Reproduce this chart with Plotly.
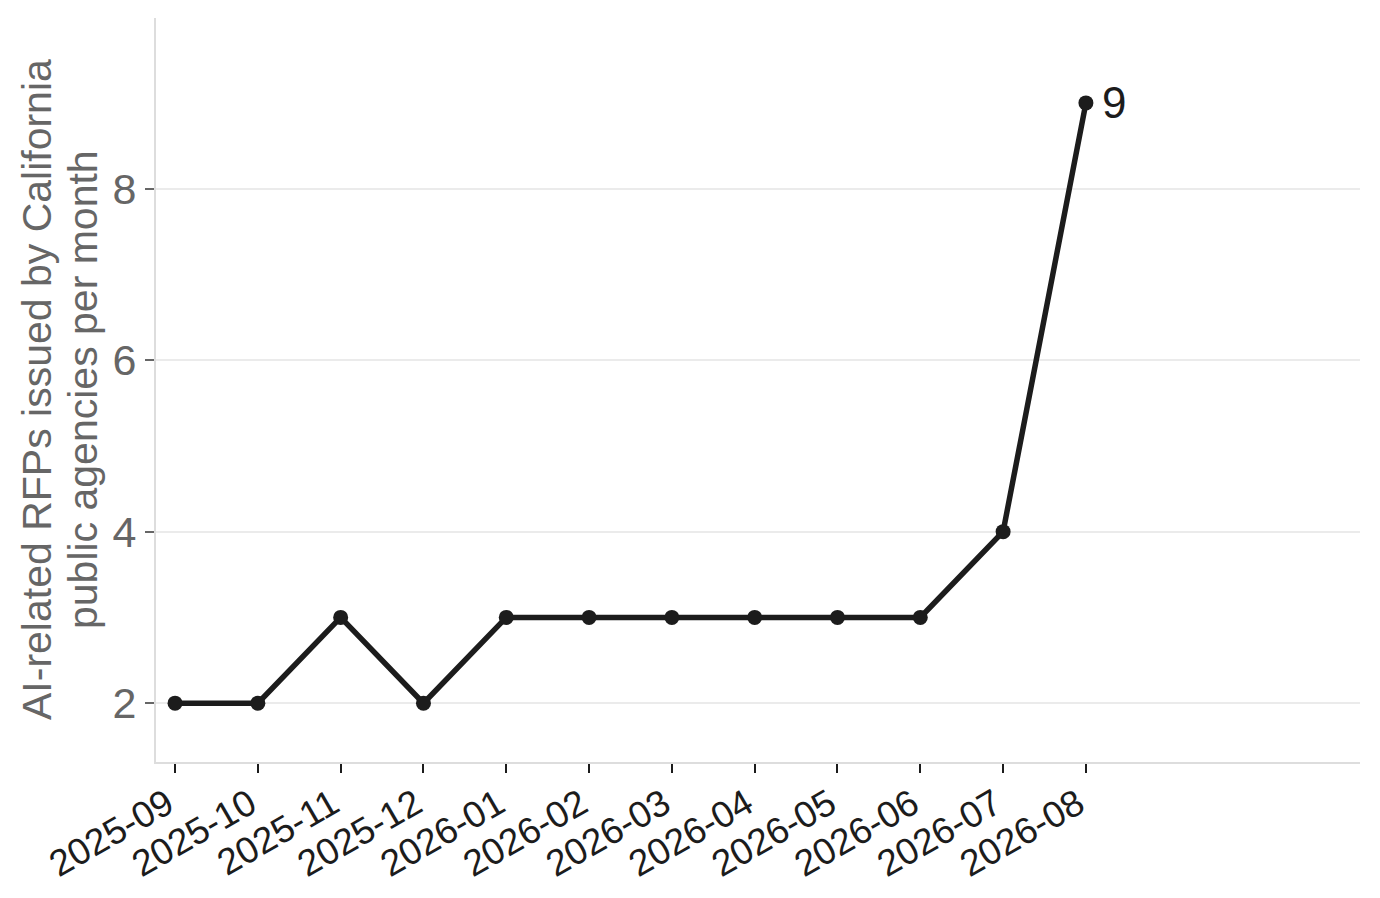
import plotly.graph_objects as go

# Monthly counts of AI-related RFPs
months = ["2025-09", "2025-10", "2025-11", "2025-12", "2026-01", "2026-02",
          "2026-03", "2026-04", "2026-05", "2026-06", "2026-07", "2026-08"]
rfp_counts = [2, 2, 3, 2, 3, 3, 3, 3, 3, 3, 4, 9]
y_ticks = [2, 4, 6, 8]
y_title_lines = ["AI-related RFPs issued by California", "public agencies per month"]

idx = list(range(len(months)))

fig = go.Figure()
fig.add_trace(go.Scatter(
    x=idx, y=rfp_counts, mode="lines+markers",
    line=dict(color="#1c1c1c", width=5.5),
    marker=dict(color="#1c1c1c", size=15),
    showlegend=False,
))

# label the last point
fig.add_annotation(
    x=idx[-1], y=rfp_counts[-1], text=str(rfp_counts[-1]),
    showarrow=False, xanchor="left", xshift=14,
    font=dict(size=44, color="#1c1c1c"),
)

# y title as two rotated lines (tighter spacing than the built-in title)
for line, shift in zip(y_title_lines, [-119, -73]):
    fig.add_annotation(
        xref="paper", yref="paper", x=0, y=0.5, text=line,
        textangle=-90, showarrow=False, xanchor="center", yanchor="middle",
        xshift=shift, font=dict(size=41, color="#666666"),
    )

# page body adds ~8px offset, margins compensate for it
fig.update_layout(
    width=1380, height=898,
    margin=dict(l=148, r=28, t=10, b=144),
    plot_bgcolor="white", paper_bgcolor="white",
    font=dict(family="Liberation Sans, Arial, sans-serif"),
)
fig.update_xaxes(
    range=[-0.23, 14.31], automargin=False,
    tickvals=idx, ticktext=months, tickangle=-30,
    tickfont=dict(size=37, color="#1c1c1c"),
    ticks="outside", ticklen=9, tickwidth=2, tickcolor="#1c1c1c",
    ticklabelstandoff=-5, ticklabelshift=-8,
    showline=True, linecolor="#dddddd", linewidth=2,
    showgrid=False, zeroline=False,
)
fig.update_yaxes(
    range=[1.314, 9.99], automargin=False,
    tickvals=y_ticks,
    tickfont=dict(size=43, color="#666666"),
    ticks="outside", ticklen=9, tickwidth=2, tickcolor="#666666",
    showline=True, linecolor="#dddddd", linewidth=2,
    showgrid=True, gridcolor="#ebebeb", gridwidth=2, zeroline=False,
)

fig.write_html("out.html")
